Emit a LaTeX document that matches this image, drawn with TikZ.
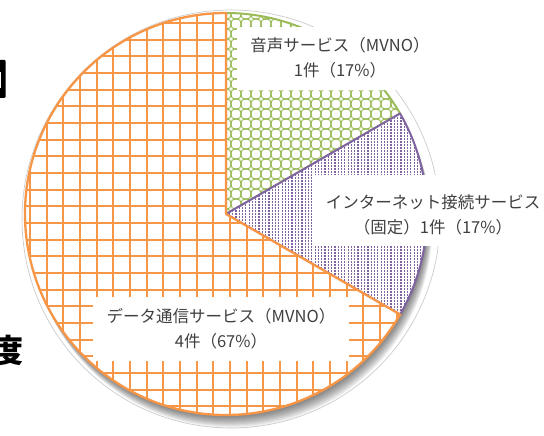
\documentclass[tikz,border=0pt]{standalone}
\usepackage{fontspec}
\newfontfamily\cjk{Noto Sans CJK JP}
\usetikzlibrary{calc}
\definecolor{orng}{HTML}{F79646}
\definecolor{grn}{HTML}{9BBB59}
\definecolor{prp}{HTML}{8064A2}
\definecolor{txt}{HTML}{404040}
\tikzset{
  lbl/.style={align=center, text=txt, inner sep=0pt, font=\cjk\fontsize{16.5}{25}\selectfont},
  labelbg/.style={fill=white, draw=none},
  greenpath/.style={grn, line width=1pt},
  purplepath/.style={prp, line width=1.2pt, dash pattern=on 1.8pt off 1.2pt},
  orangepath/.style={orng, line width=2pt},
}
\begin{document}
\begin{tikzpicture}[x=1pt,y=1pt]
\useasboundingbox (0,0) rectangle (544,436);
\fill[white] (0,0) rectangle (544,436);
\coordinate (C) at (226,222);
\def\R{201}
% shadow and outline
\draw[gray!40, line width=0.7pt, fill=white] (231,217) circle (209);
\foreach \i in {1,...,12} \fill[black, opacity=0.05] ($(C)+(0.45*\i,-1.05*\i)$) circle (\R);
% green slice
\fill[white] (C) -- ++(90:\R) arc[start angle=90,end angle=30,radius=\R] -- cycle;
\begin{scope}
  \clip (C) -- ++(90:\R) arc[start angle=90,end angle=30,radius=\R] -- cycle;
  \foreach \i in {0,...,21} \foreach \j in {0,...,21}
    \draw[greenpath] (226+10*\i, 222+10*\j) circle (5.4);
\end{scope}
\draw[grn, line width=2pt, line join=round] (C) -- ++(90:\R) arc[start angle=90,end angle=30,radius=\R] -- cycle;
% purple slice
\fill[white] (C) -- ++(30:\R) arc[start angle=30,end angle=-30,radius=\R] -- cycle;
\begin{scope}
  \clip (C) -- ++(30:\R) arc[start angle=30,end angle=-30,radius=\R] -- cycle;
  \foreach \i in {0,...,62}
    \draw[purplepath] (226+3.3*\i, 110) -- (226+3.3*\i, 335);
\end{scope}
\draw[prp, line width=2pt, line join=round] (C) -- ++(30:\R) arc[start angle=30,end angle=-30,radius=\R] -- cycle;
% orange slice
\fill[white] (C) -- ++(-30:\R) arc[start angle=-30,end angle=-270,radius=\R] -- cycle;
\begin{scope}
  \clip (C) -- ++(-30:\R) arc[start angle=-30,end angle=-270,radius=\R] -- cycle;
  \foreach \k in {-12,...,13}
    \draw[orangepath] (213.3+16.67*\k, 0) -- (213.3+16.67*\k, 436);
  \foreach \k in {0,...,25}
    \draw[orangepath] (0, 413-16.67*\k) -- (544, 413-16.67*\k);
\end{scope}
\draw[orng, line width=2.3pt, line join=round] (C) -- ++(-30:\R) arc[start angle=-30,end angle=-270,radius=\R] -- cycle;
% label backgrounds
\fill[labelbg] (237,409) rectangle (443,346);
\fill[labelbg] (315,261) rectangle (544,190);
\fill[labelbg] (93,139) rectangle (349,75);
% labels
\node[lbl] (lg) at (340,378.5) {音声サービス（MVNO）\\1件（17\%）};
\node[lbl] (lp) at (433,221) {インターネット接続サービス\\（固定）1件（17\%）};
\node[lbl] (lo) at (221,107.5) {データ通信サービス（MVNO）\\4件（67\%）};
% clipped fragments at the left edge
\fill[black, rounded corners=1pt] (-2,376) rectangle (5.5,338);
\fill[white] (0,364) rectangle (1.3,348);
\node[font=\cjk\bfseries\fontsize{32}{32}\selectfont, inner sep=0pt, text=black] (frag) at (7,86) {度};
\end{tikzpicture}
\end{document}
